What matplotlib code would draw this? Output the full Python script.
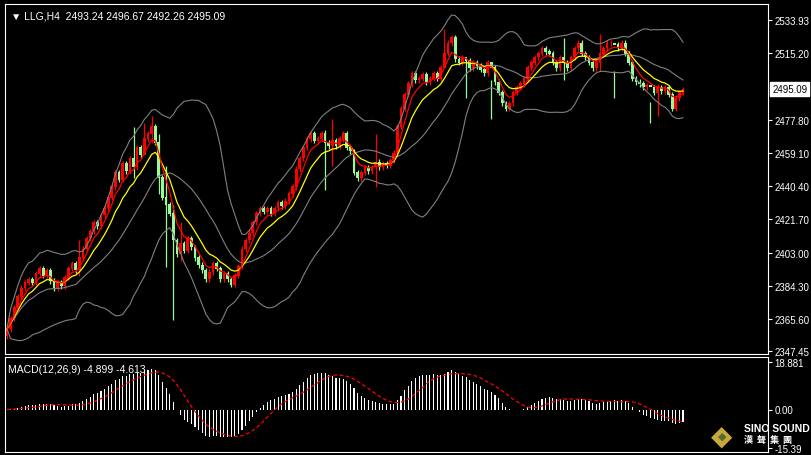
import numpy as np
import pandas as pd
import matplotlib
matplotlib.use("Agg")
import matplotlib.pyplot as plt

# closing prices of LLG H4 candles (left to right)
closes = [
    2360, 2366, 2372, 2378, 2383, 2386, 2388, 2386, 2391, 2394, 2390, 2393, 2387, 2383, 2386, 2384,
    2389, 2394, 2397, 2393, 2400, 2405, 2411, 2415, 2420, 2418, 2424, 2428, 2434, 2440, 2448, 2444,
    2453, 2449, 2456, 2451, 2462, 2458, 2467, 2470, 2474, 2465, 2445, 2434, 2430, 2425, 2410, 2402,
    2408, 2404, 2411, 2406, 2400, 2396, 2393, 2388, 2392, 2397, 2394, 2388, 2391, 2388, 2385, 2390,
    2395, 2405, 2410, 2414, 2420, 2425, 2428, 2426, 2428, 2425, 2428, 2431, 2429, 2432, 2436, 2440,
    2450, 2456, 2462, 2467, 2470, 2466, 2467, 2470, 2465, 2463, 2466, 2463, 2467, 2470, 2462, 2460,
    2448, 2445, 2448, 2451, 2449, 2451, 2454, 2451, 2453, 2452, 2455, 2459, 2474, 2484, 2492, 2498,
    2504, 2500, 2501, 2503, 2499, 2501, 2504, 2501, 2507, 2515, 2521, 2524, 2512, 2510, 2513, 2511,
    2507, 2510, 2508, 2506, 2504, 2510, 2507, 2499, 2493, 2487, 2484, 2487, 2493, 2496, 2498, 2501,
    2507, 2510, 2513, 2515, 2518, 2516, 2515, 2510, 2507, 2513, 2510, 2507, 2513, 2518, 2521, 2515,
    2513, 2510, 2507, 2510, 2515, 2518, 2521, 2521, 2520, 2518, 2521, 2515, 2510, 2501, 2499, 2498,
    2496, 2497, 2496, 2493, 2496, 2494, 2496, 2492, 2484, 2490, 2493, 2495,
]
opens = [2356] + closes[:-1]
# candles with long shadows: index -> (high, low)
long_wicks = {
    35: (2474, 2445), 38: (2476, 2460), 40: (2480, 2465), 42: (2470, 2436),
    44: (2452, 2395), 46: (2430, 2365), 48: (2420, 2398), 20: (2410, 2390),
    88: (2472, 2438), 90: (2478, 2452), 102: (2470, 2440), 121: (2529, 2508),
    127: (2512, 2490), 134: (2500, 2478), 154: (2524, 2500), 164: (2526, 2505),
    168: (2505, 2490), 178: (2488, 2476), 180: (2498, 2480),
}
price_ticks = [2533.93, 2515.20, 2477.80, 2459.10, 2440.40, 2421.70, 2403.00, 2384.30, 2365.60, 2347.45]
macd_ticks = [18.881, 0.00, -15.39]
last_price = 2495.09
title = "LLG,H4  2493.24 2496.67 2492.26 2495.09"

BG = "black"
UP, DN = "#ff0000", "#98fb98"
FONT = "Liberation Sans"
n = len(closes)
idx = np.arange(n)
c = np.array(closes, float)
o = np.array(opens, float)
hi = np.maximum(o, c) + 1.5
lo = np.minimum(o, c) - 1.5
for k, (h, l) in long_wicks.items():
    if k < n:
        hi[k], lo[k] = h, l

s = pd.Series(c)
mid = s.rolling(20, min_periods=1).mean()
sd = s.rolling(20, min_periods=1).std().fillna(0)
ma_fast = s.ewm(span=5).mean()
ma_slow = s.ewm(span=10).mean()
macd = s.ewm(span=12).mean() - s.ewm(span=26).mean()
sig = macd.rolling(9, min_periods=1).mean()

W, H = 811, 456
fig = plt.figure(figsize=(W / 100, H / 100), dpi=100, facecolor=BG)
ax = fig.add_axes([5 / W, 1 - 355 / H, 763 / W, 350 / H], facecolor=BG)
ax2 = fig.add_axes([5 / W, 1 - 453 / H, 763 / W, 95 / H], facecolor=BG)
# first candle near x=7 px, last near x=683 px
span = (n - 1) * 763 / 676
xmin = -2 * span / 763
for a in (ax, ax2):
    for sp in a.spines.values():
        sp.set_color("white")
    a.set_xlim(xmin, xmin + span)
    a.set_xticks([])
    a.yaxis.tick_right()
    a.tick_params(axis="y", colors="white", labelsize=7, length=3, pad=1.5)

cols = np.where(c >= o, UP, DN)
ax.vlines(idx, lo, hi, colors=cols, lw=0.9)
ax.bar(idx, np.abs(c - o) + 0.3, bottom=np.minimum(o, c), width=0.75, color=cols, linewidth=0)
for line in (mid + 2 * sd, mid, mid - 2 * sd):
    ax.plot(idx, line, color="#808080", lw=0.8)
ax.plot(idx, ma_slow, color="yellow", lw=0.9)
ax.plot(idx, ma_fast, color="red", lw=0.9)
ax.set_ylim(2345.9, 2543)
ax.set_yticks(price_ticks)
ax.set_yticklabels([f"{t:.2f}" for t in price_ticks], family=FONT)
ax.text(0.008, 0.98, "\u25bc " + title, transform=ax.transAxes, color="white",
        fontsize=7.5, va="top", family=FONT)
ax.annotate(f"{last_price:.2f}", xy=(1, last_price), xycoords=("axes fraction", "data"),
            xytext=(3, 0), textcoords="offset points", va="center", fontsize=7, color="black",
            family=FONT, bbox=dict(boxstyle="square,pad=0.2", fc="white", ec="white"),
            annotation_clip=False)

ax2.bar(idx, macd, width=0.3, color="white", linewidth=0)
ax2.plot(idx, sig, color="red", lw=0.9, ls=(0, (3, 2)))
ax2.set_ylim(-17, 21)
ax2.set_yticks(macd_ticks)
ax2.set_yticklabels(["18.881", "0.00", "-15.39"], family=FONT)
ax2.text(0.004, 0.93, "MACD(12,26,9) -4.899 -4.613", transform=ax2.transAxes,
         color="white", fontsize=7.5, va="top", family=FONT)

# logo
fig.text(722 / W, 1 - 437 / H, "\u25c6", color="#c8a83c", fontsize=20, ha="center", va="center")
fig.text(722 / W, 1 - 437 / H, "\u25c6", color="#556b2f", fontsize=8, ha="center", va="center")
fig.text(744 / W, 1 - 429 / H, "SINO SOUND", color="white", fontsize=7.5, weight="bold",
         family=FONT, va="center")
fig.text(744 / W, 1 - 441 / H, "漢  聲  集  團", color="white", fontsize=6.5, va="center",
         family=["Noto Sans CJK JP", "Noto Sans CJK TC", "Noto Sans CJK SC"], weight="bold")

fig.savefig("out.png", dpi=100, facecolor=BG)
